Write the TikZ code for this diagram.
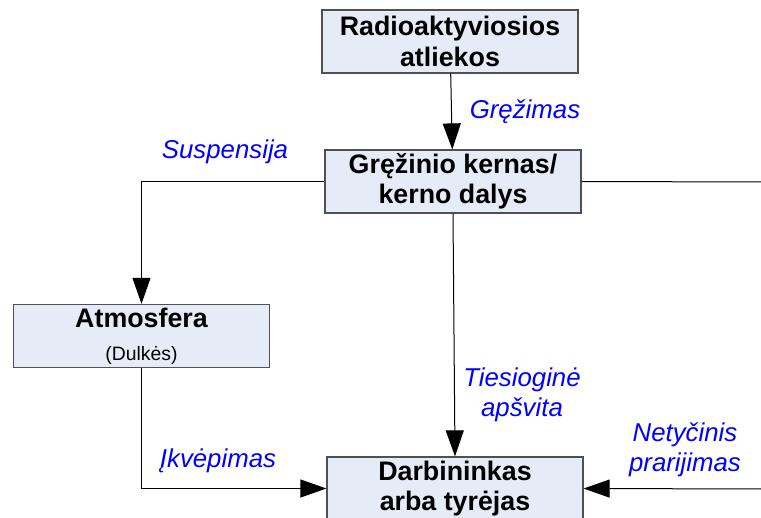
\documentclass[tikz,border=0pt]{standalone}
\usepackage{fontspec}
\setmainfont{Liberation Sans}
\usetikzlibrary{arrows.meta,positioning}
\definecolor{boxfill}{RGB}{230,236,247}
\definecolor{boxline}{RGB}{80,80,80}

\begin{document}
\begin{tikzpicture}[
    x=0.5pt, y=-0.5pt,
    stagebox/.style={rectangle, draw=boxline, fill=boxfill, line width=0.6pt, minimum width=128pt, minimum height=31.5pt, inner sep=0pt, align=center, font=\fontsize{13.4}{15.2}\selectfont\bfseries},
    pathlabel/.style={align=center, text=blue, font=\fontsize{12.9}{15}\selectfont\itshape},
    arrow/.style={-{Triangle[length=13pt, width=9pt]}, line width=0.5pt},
    link/.style={line width=0.5pt},
  ]
  \useasboundingbox (0,0) rectangle (761,518);

  % Stages
  \node[stagebox] (waste) at (450,41.5) {Radioaktyviosios\\atliekos};
  \node[stagebox] (core) at (453,181.5) {Gręžinio kernas/\\kerno dalys};
  \node[stagebox] (atmo) at (141.5,336) {Atmosfera\\[1.5pt]{\fontsize{9.7}{11}\selectfont\mdseries (Dulkės)}};
  \node[stagebox] (worker) at (455,488.5) {Darbininkas\\arba tyrėjas};

  % Open ends on the right edge
  \coordinate (outright) at (761,182);
  \coordinate (inright) at (761,489);

  % Connectors
  \draw[arrow] (waste) -- (core);
  \draw[arrow] (core.west) -| (atmo.north);
  \draw[link] (core.east) -- (outright);
  \draw[arrow] (core.south) -- (worker.north);
  \draw[arrow] (atmo.south) |- (worker.west);
  \draw[arrow] (inright) -- (worker.east);

  % Labels
  \node[pathlabel] (drilling) at (525,112) {Gręžimas};
  \node[pathlabel] (suspension) at (225,152) {Suspensija};
  \node[pathlabel] (inhale) at (218,461) {Įkvėpimas};
  \node[pathlabel] (direct) at (522,395) {Tiesioginė\\apšvita};
  \node[pathlabel] (ingest) at (685,450) {Netyčinis\\prarijimas};
\end{tikzpicture}
\end{document}
